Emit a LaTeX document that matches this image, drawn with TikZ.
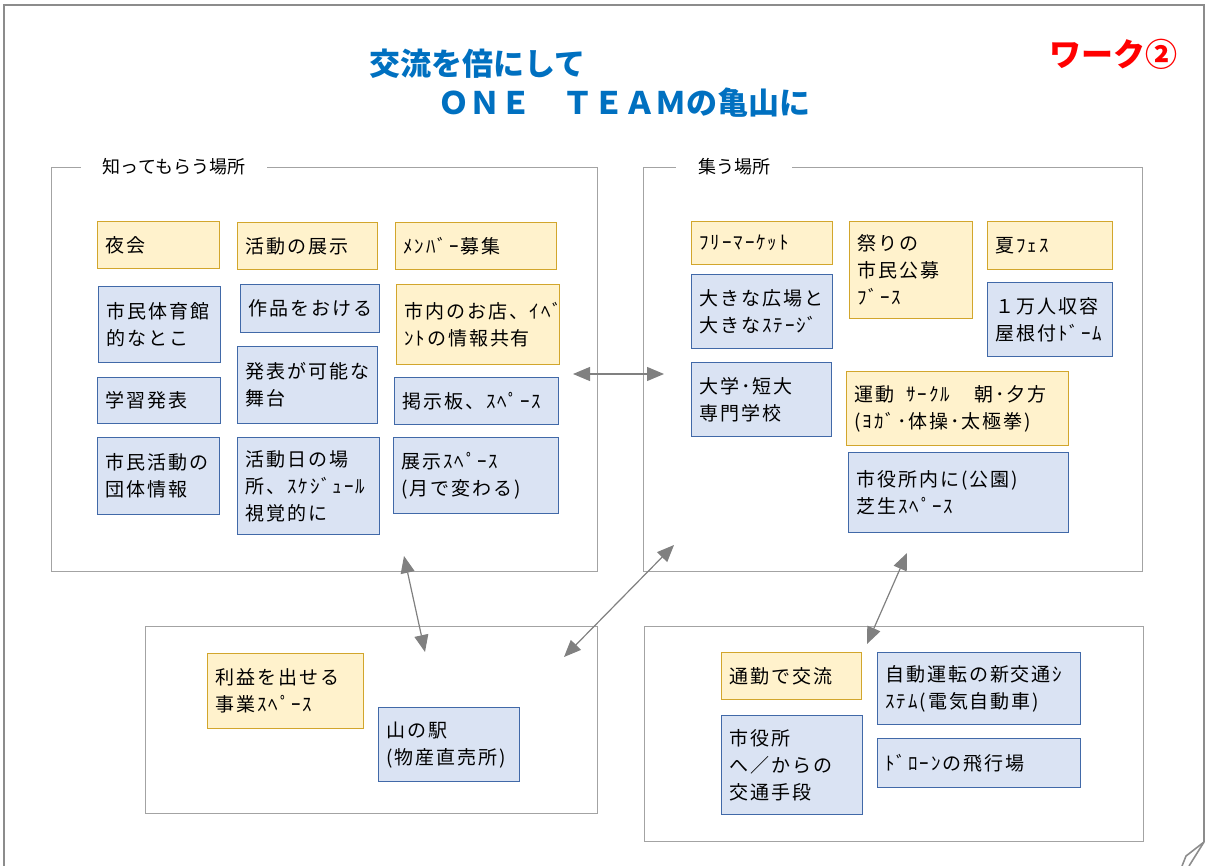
\documentclass[tikz,border=0pt]{standalone}
\usepackage{fontspec}
\setmainfont{Noto Sans CJK JP}
\newfontfamily\notefont{Noto Sans CJK JP}[LetterSpace=10]
\usetikzlibrary{arrows.meta}
\definecolor{ynote}{HTML}{FFF2CC}
\definecolor{yline}{HTML}{D2A62C}
\definecolor{bnote}{HTML}{DAE3F3}
\definecolor{bline}{HTML}{4169A8}
\definecolor{grpline}{HTML}{A3A3A3}
\definecolor{frameline}{HTML}{8C8C8C}
\definecolor{linkgray}{HTML}{808080}
\definecolor{titleblue}{HTML}{0070C0}
\tikzset{
  note/.style={draw, line width=1.2pt, anchor=north west, align=left, inner xsep=8pt,
    font=\notefont\fontsize{19}{27}\selectfont},
  ypost/.style 2 args={note, fill=ynote, draw=yline, text width=#1, minimum height=#2},
  bpost/.style 2 args={note, fill=bnote, draw=bline, text width=#1, minimum height=#2},
  grp/.style={draw=grpline, line width=1.3pt, anchor=north west},
  grplabel/.style={fill=white, inner xsep=22pt, font=\fontsize{18}{20}\selectfont},
  link/.style={draw=linkgray, line width=1.2pt, {Triangle[length=17pt,width=14pt]}-{Triangle[length=17pt,width=14pt]}}
}
\begin{document}
\begin{tikzpicture}[x=1pt,y=-1pt]
\useasboundingbox (0,0) rectangle (1207,866);
\draw[frameline, line width=2.6pt] (4,866) -- (4,5) -- (1204,5) -- (1204,842);
\draw[frameline, line width=1.6pt] (1204,842) -- (1186,856) -- (1182,866);
\draw[frameline, line width=1.6pt] (1204,842) -- (1189,866);

\node[anchor=west, text=titleblue, font=\fontsize{31}{33}\bfseries] (t1) at (366,64) {交流を倍にして};
\node[anchor=west, text=titleblue, font=\fontsize{31}{33}\bfseries] (t2) at (435,103) {ＯＮＥ　ＴＥＡＭの亀山に};
\node[anchor=west, text=red, font=\fontsize{32}{34}\bfseries] (work) at (1046,54) {ワーク②};

\node[grp, minimum width=546pt, minimum height=404pt] (shiru) at (51,167) {};
\node[grplabel] (shiruL) at (174,167) {知ってもらう場所};
\node[grp, minimum width=499pt, minimum height=404pt] (tsudou) at (643,167) {};
\node[grplabel] (tsudouL) at (734,167) {集う場所};
\node[grp, minimum width=452pt, minimum height=187pt] (eki) at (145,626) {};
\node[grp, minimum width=499pt, minimum height=215pt] (kotsu) at (644,626) {};

\node[ypost={106pt}{47pt}] (yakai) at (97,221) {夜会};
\node[ypost={124pt}{47pt}] (tenji) at (237,222) {活動の展示};
\node[ypost={145pt}{47pt}] (member) at (395,222) {ﾒﾝﾊﾞｰ募集};
\node[bpost={106pt}{76pt}] (taiiku) at (98,286) {市民体育館\\的なとこ};
\node[bpost={123pt}{48pt}] (sakuhin) at (240,284) {作品をおける};
\node[ypost={147pt}{80pt}] (omise) at (396,284) {市内のお店、ｲﾍﾞ\\ﾝﾄの情報共有};
\node[bpost={124pt}{77pt}] (butai) at (237,346) {発表が可能な\\舞台};
\node[bpost={107pt}{46pt}] (gakushu) at (97,377) {学習発表};
\node[bpost={148pt}{47pt}] (keiji) at (394,377) {掲示板、ｽﾍﾟｰｽ};
\node[bpost={106pt}{77pt}] (dantai) at (97,437) {市民活動の\\団体情報};
\node[bpost={126pt}{97pt}] (sched) at (237,437) {活動日の場\\所、ｽｹｼﾞｭｰﾙ\\視覚的に};
\node[bpost={149pt}{76pt}] (tenjisp) at (393,437) {展示ｽﾍﾟｰｽ\\(月で変わる)};

\node[ypost={125pt}{43pt}] (flea) at (691,221) {ﾌﾘｰﾏｰｹｯﾄ};
\node[ypost={107pt}{97pt}] (matsuri) at (849,221) {祭りの\\市民公募\\ﾌﾞｰｽ};
\node[ypost={109pt}{48pt}] (fes) at (987,221) {夏ﾌｪｽ};
\node[bpost={125pt}{74pt}] (hiroba) at (691,274) {大きな広場と\\大きなｽﾃｰｼﾞ};
\node[bpost={109pt}{74pt}] (dome) at (987,282) {１万人収容\\屋根付ﾄﾞｰﾑ};
\node[bpost={124pt}{74pt}] (daigaku) at (691,362) {大学･短大\\専門学校};
\node[ypost={206pt}{74pt}] (undou) at (846,371) {運動\hspace{12pt}ｻｰｸﾙ\hspace{24pt}朝･夕方\\(ﾖｶﾞ･体操･太極拳)};
\node[bpost={204pt}{80pt}] (shibafu) at (848,452) {市役所内に(公園)\\芝生ｽﾍﾟｰｽ};

\node[ypost={140pt}{75pt}] (rieki) at (207,653) {利益を出せる\\事業ｽﾍﾟｰｽ};
\node[bpost={125pt}{74pt}] (yamaeki) at (378,707) {山の駅\\(物産直売所)};

\node[ypost={124pt}{47pt}] (tsukin) at (721,652) {通勤で交流};
\node[bpost={187pt}{72pt}] (jidou) at (877,652) {自動運転の新交通ｼ\\ｽﾃﾑ(電気自動車)};
\node[bpost={125pt}{99pt}] (shiyaku) at (721,715) {市役所\\へ／からの\\交通手段};
\node[bpost={187pt}{49pt}] (drone) at (877,738) {ﾄﾞﾛｰﾝの飛行場};

\coordinate (s1) at (573,374);
\coordinate (s2) at (404,556);
\coordinate (g1) at (664,374);
\coordinate (g2) at (674,545);
\coordinate (g3) at (907,553);
\coordinate (e1) at (425,652);
\coordinate (e2) at (564,657);
\coordinate (k1) at (867,644);
\draw[link] (s1) -- (g1);
\draw[link] (s2) -- (e1);
\draw[link] (g2) -- (e2);
\draw[link] (g3) -- (k1);
\end{tikzpicture}
\end{document}
